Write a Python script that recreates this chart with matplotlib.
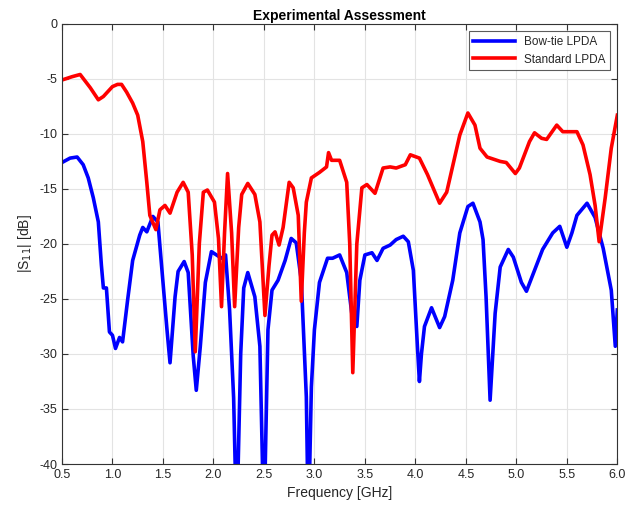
import numpy as np
import matplotlib
matplotlib.use("Agg")
import matplotlib.pyplot as plt

# Standard LPDA (red) - frequency [GHz], |S11| [dB]
f_std = [0.50, 0.60, 0.68, 0.78, 0.86, 0.91, 1.00, 1.05, 1.09, 1.14, 1.20, 1.25, 1.30, 1.34, 1.37, 1.43,
         1.47, 1.52, 1.57, 1.64, 1.70, 1.75, 1.79, 1.82, 1.86, 1.90, 1.94, 2.01, 2.05, 2.08, 2.11, 2.14,
         2.18, 2.21, 2.25, 2.28, 2.34, 2.41, 2.46, 2.51, 2.55, 2.58, 2.61, 2.65, 2.69, 2.75, 2.79, 2.84,
         2.87, 2.90, 2.92, 2.97, 3.05, 3.12, 3.14, 3.17, 3.25, 3.32, 3.35, 3.38, 3.42, 3.47, 3.52, 3.60,
         3.68, 3.75, 3.81, 3.90, 3.95, 4.04, 4.12, 4.18, 4.24, 4.31, 4.38, 4.44, 4.52, 4.59, 4.64, 4.71,
         4.84, 4.90, 4.99, 5.03, 5.13, 5.18, 5.25, 5.30, 5.40, 5.46, 5.60, 5.66, 5.73, 5.78, 5.82, 5.88,
         5.94, 6.00]
s_std = [-5.1, -4.8, -4.6, -5.8, -6.9, -6.6, -5.7, -5.5, -5.5, -6.2, -7.2, -8.3, -10.7, -14.4, -17.4, -18.7,
         -16.9, -16.5, -17.2, -15.3, -14.4, -15.3, -21.0, -29.8, -20.0, -15.3, -15.1, -16.2, -19.5, -25.7, -19.0, -13.6,
         -19.0, -25.7, -18.5, -15.5, -14.5, -15.5, -18.0, -26.5, -22.0, -19.2, -18.9, -20.1, -18.5, -14.4, -14.9, -17.4,
         -25.2, -19.0, -16.2, -14.0, -13.5, -13.0, -11.7, -12.4, -12.4, -14.4, -20.0, -31.7, -20.0, -14.9, -14.6, -15.4,
         -13.1, -13.0, -13.1, -12.8, -11.9, -12.2, -13.7, -15.0, -16.3, -15.3, -12.5, -10.1, -8.1, -9.2, -11.3, -12.1,
         -12.5, -12.6, -13.6, -13.1, -10.7, -9.9, -10.4, -10.5, -9.2, -9.8, -9.8, -11.0, -13.7, -16.5, -19.8, -15.8,
         -11.3, -8.3]

# Bow-tie LPDA (blue)
f_bow = [0.50, 0.58, 0.65, 0.71, 0.76, 0.81, 0.86, 0.89, 0.91, 0.94, 0.97, 1.00, 1.03, 1.07, 1.10, 1.15,
         1.20, 1.27, 1.30, 1.34, 1.40, 1.45, 1.47, 1.54, 1.57, 1.62, 1.65, 1.71, 1.75, 1.80, 1.83, 1.87,
         1.92, 1.98, 2.03, 2.08, 2.12, 2.16, 2.20, 2.23, 2.27, 2.30, 2.34, 2.41, 2.46, 2.50, 2.54, 2.58,
         2.64, 2.71, 2.77, 2.82, 2.87, 2.92, 2.94, 2.97, 3.00, 3.05, 3.13, 3.18, 3.25, 3.32, 3.37, 3.42,
         3.45, 3.50, 3.57, 3.62, 3.68, 3.75, 3.81, 3.88, 3.93, 3.98, 4.02, 4.04, 4.06, 4.09, 4.16, 4.24,
         4.29, 4.37, 4.44, 4.52, 4.57, 4.64, 4.67, 4.70, 4.74, 4.79, 4.84, 4.92, 4.97, 5.05, 5.10, 5.18,
         5.26, 5.36, 5.43, 5.50, 5.55, 5.60, 5.70, 5.78, 5.86, 5.94, 5.98, 6.00]
s_bow = [-12.6, -12.2, -12.1, -12.8, -14.0, -15.8, -18.0, -21.9, -24.0, -24.0, -28.0, -28.3, -29.5, -28.5, -28.9, -25.1,
         -21.5, -19.2, -18.5, -18.9, -17.5, -18.0, -20.2, -27.8, -30.8, -24.8, -22.5, -21.6, -22.6, -30.2, -33.3, -29.3,
         -23.5, -20.7, -21.0, -21.3, -21.0, -26.0, -34.0, -46.0, -30.0, -24.0, -22.6, -24.8, -29.3, -46.0, -27.8, -24.2,
         -23.3, -21.5, -19.5, -19.9, -23.3, -33.9, -46.0, -33.0, -27.8, -23.5, -21.3, -21.3, -21.0, -22.6, -26.3, -27.5,
         -23.3, -21.0, -20.8, -21.5, -20.4, -20.1, -19.6, -19.3, -19.8, -22.4, -29.3, -32.5, -30.0, -27.5, -25.8, -27.6,
         -26.6, -23.3, -19.0, -16.6, -16.3, -18.0, -19.6, -24.8, -34.2, -26.3, -22.1, -20.5, -21.2, -23.5, -24.3, -22.4,
         -20.5, -19.0, -18.4, -20.3, -19.0, -17.4, -16.3, -17.6, -20.4, -24.2, -29.3, -26.0]

plt.rcParams['font.family'] = ['Liberation Sans', 'DejaVu Sans']
plt.rcParams['axes.unicode_minus'] = False
txt = '#262626'

fig = plt.figure(figsize=(6.28, 5.08), dpi=100)
ax = fig.add_axes([0.0987, 0.0866, 0.8843, 0.8664])

ax.plot(f_bow, s_bow, color='#0000ff', linewidth=2.6, label='Bow-tie LPDA', solid_joinstyle='round')
ax.plot(f_std, s_std, color='#ff0000', linewidth=2.6, label='Standard LPDA', solid_joinstyle='round')

ax.set_xlim(0.5, 6.0)
ax.set_ylim(-40, 0)
ticks_x = np.arange(0.5, 6.01, 0.5)
ax.set_xticks(ticks_x)
ax.set_xticklabels([f"{v:.1f}" for v in ticks_x])
ax.set_yticks(np.arange(-40, 1, 5))
ax.tick_params(direction='in', top=True, right=True, labelsize=9, length=4,
               color='#333333', labelcolor=txt)
ax.grid(True, color='#e3e3e3', linewidth=0.8)
for s in ax.spines.values():
    s.set_color('#333333')
    s.set_linewidth(0.8)

ax.set_xlabel('Frequency [GHz]', fontsize=10, color=txt)
ax.set_ylabel('|S$_{11}$| [dB]', fontsize=10, color=txt)
ax.set_title('Experimental Assessment', fontsize=10, fontweight='bold', pad=3)
leg = ax.legend(loc='upper right', fontsize=8.5, fancybox=False, edgecolor='#333333',
                handlelength=3.5, borderaxespad=0.6)
leg.get_frame().set_linewidth(0.8)
for t in leg.get_texts():
    t.set_color(txt)

fig.savefig('out.png', dpi=100)
